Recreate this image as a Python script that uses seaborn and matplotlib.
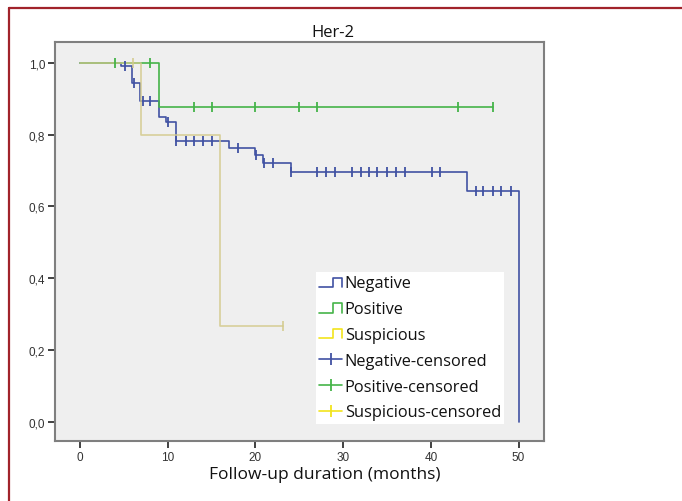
import numpy as np
import pandas as pd
import matplotlib
matplotlib.use("Agg")
import matplotlib.pyplot as plt
import seaborn as sns
from matplotlib.lines import Line2D
from matplotlib.legend_handler import HandlerBase
from matplotlib.ticker import FuncFormatter

# Kaplan-Meier estimates by Her-2 status (months, survival proportion)
groups = ["Negative", "Positive", "Suspicious"]

neg_event_times = [4.7, 5.9, 6.85, 9.0, 9.8, 11.0, 17.0, 20.0, 20.9, 24.0, 44.1, 50.0]
neg_survival = [0.990, 0.943, 0.895, 0.849, 0.835, 0.783, 0.763, 0.744, 0.721, 0.696, 0.644, 0.0]
neg_censored = [5.1, 6.1, 7.15, 8.0, 10.0, 11.0, 12.1, 13.0, 14.0, 15.0, 18.0, 20.1,
                21.0, 22.0, 24.0, 27.0, 28.1, 29.1, 31.0, 32.0, 32.9, 33.9, 35.0,
                36.0, 37.0, 40.1, 41.0, 45.1, 46.0, 47.1, 48.0, 49.1]

pos_event_times = [9.0]
pos_survival = [0.877]
pos_censored = [4.0, 8.0, 13.0, 15.0, 20.0, 25.0, 27.0, 43.1, 47.1]

sus_event_times = [7.0, 16.0]
sus_survival = [0.80, 0.267]
sus_censored = [6.0, 23.1]

x_ticks = [0, 10, 20, 30, 40, 50]
y_ticks = [0.0, 0.2, 0.4, 0.6, 0.8, 1.0]

line_colors = {"Negative": "#4152a3", "Positive": "#45b449", "Suspicious": "#d3ca8c"}
legend_colors = {"Negative": "#4152a3", "Positive": "#45b449", "Suspicious": "#f2e41c"}


def km_frames(name, times, surv, censored):
    t = [0.0] + list(times)
    s = [1.0] + list(surv)
    end = max(t[-1], max(censored))
    if end > t[-1]:
        t.append(end)
        s.append(s[-1])
    steps = pd.DataFrame({"group": name, "time": t, "survival": s})
    ev = np.asarray([0.0] + list(times))
    lv = np.asarray([1.0] + list(surv))
    idx = np.searchsorted(ev, censored, side="right") - 1
    cens = pd.DataFrame({"group": name, "time": censored, "survival": lv[idx]})
    return steps, cens


parts = [km_frames("Negative", neg_event_times, neg_survival, neg_censored),
         km_frames("Positive", pos_event_times, pos_survival, pos_censored),
         km_frames("Suspicious", sus_event_times, sus_survival, sus_censored)]

sns.set_theme(style="white")
plt.rcParams["font.family"] = ["Liberation Sans", "DejaVu Sans"]

fig = plt.figure(figsize=(6.82, 5.02), dpi=100)
ax = fig.add_axes([55 / 682, 60 / 502, 489 / 682, 399 / 502])
ax.set_facecolor("#efefef")

for (steps, cens), name in zip(parts, groups):
    alpha = 0.85 if name == "Suspicious" else 1.0
    sns.lineplot(data=steps, x="time", y="survival", ax=ax, color=line_colors[name],
                 drawstyle="steps-post", estimator=None, linewidth=1.2,
                 alpha=alpha, legend=False)
    sns.scatterplot(data=cens, x="time", y="survival", ax=ax, color=line_colors[name],
                    marker="|", s=60, linewidth=1.3, alpha=alpha, legend=False, zorder=3)

ax.set_xlim(-2.85, 52.9)
ax.set_ylim(-0.053, 1.058)
ax.set_xticks(x_ticks)
ax.set_yticks(y_ticks)
ax.yaxis.set_major_formatter(FuncFormatter(lambda v, p: f"{v:.1f}".replace(".", ",")))
ax.tick_params(axis="both", direction="out", length=5, width=1.3, color="#333333",
               labelsize=8.5, labelcolor="#333333", pad=2, left=True, bottom=True)
for sp in ax.spines.values():
    sp.set_color("#7f7f7f")
    sp.set_linewidth(1.5)
ax.set_xlabel("")
ax.set_ylabel("")

fig.text(333 / 682, 1 - 33 / 502, "Her-2", ha="center", va="center",
         fontsize=12, family=["Open Sans", "DejaVu Sans"], color="#111111")
fig.text(325 / 682, 1 - 475 / 502, "Follow-up duration (months)", ha="center", va="center",
         fontsize=12.5, family=["Open Sans", "DejaVu Sans"], color="#111111")


class StepHandler(HandlerBase):
    def create_artists(self, legend, orig_handle, xdescent, ydescent, width, height,
                       fontsize, trans):
        x0, y0 = -xdescent, -ydescent
        xm = x0 + 0.6 * width
        lo, hi = y0 + 0.05 * height, y0 + 0.85 * height
        line = Line2D([x0, xm, xm, x0 + width, x0 + width], [lo, lo, hi, hi, lo],
                      color=orig_handle.get_color(), linewidth=1.2)
        line.set_transform(trans)
        return [line]


step_handles = [Line2D([], [], color=legend_colors[g]) for g in groups]
cens_handles = [Line2D([], [], color=legend_colors[g], linewidth=1.2, marker="|",
                       markersize=9, markeredgewidth=1.3) for g in groups]
labels = groups + [f"{g}-censored" for g in groups]
handler_map = {h: StepHandler() for h in step_handles}

leg = fig.legend(step_handles + cens_handles, labels, handler_map=handler_map,
                 loc="upper left", bbox_to_anchor=(316 / 682, 1 - 273 / 502),
                 frameon=True, fancybox=False, framealpha=1, borderaxespad=0,
                 borderpad=0.2, handlelength=1.4, handletextpad=0.15, labelspacing=0.6,
                 numpoints=1, prop={"family": "Open Sans", "size": 11.8})
leg.get_frame().set_facecolor("white")
leg.get_frame().set_edgecolor("white")
leg.get_frame().set_linewidth(0)
for t in leg.get_texts():
    t.set_color("#111111")

border = "#a1232b"
fig.add_artist(Line2D([8.5 / 682, 8.5 / 682], [0, 1 - 8.5 / 502], color=border,
                      linewidth=1.6, transform=fig.transFigure))
fig.add_artist(Line2D([8.5 / 682, 1], [1 - 8.5 / 502, 1 - 8.5 / 502], color=border,
                      linewidth=1.6, transform=fig.transFigure))

fig.savefig("out.png", dpi=100, facecolor="white")
